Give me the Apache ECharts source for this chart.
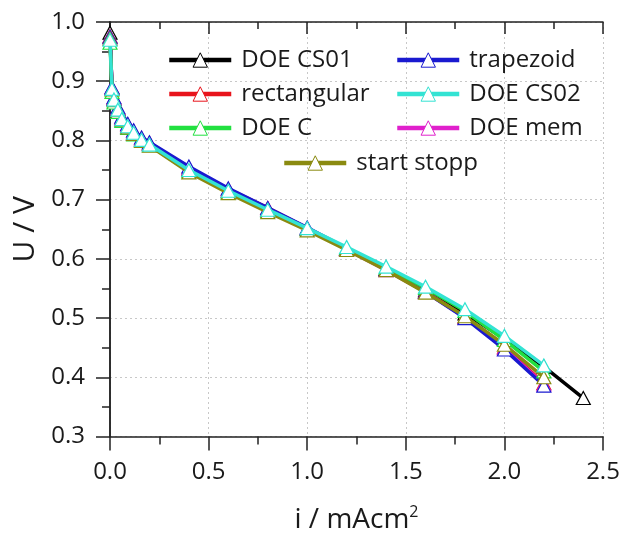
<!DOCTYPE html>
<html>
<head>
<meta charset="utf-8">
<script src="https://cdn.jsdelivr.net/npm/echarts@6/dist/echarts.min.js"></script>
<style>html,body{margin:0;padding:0;background:#fff}#c{width:635px;height:539px}</style>
</head>
<body>
<div id="c"></div>
<script>
// ---- data ----
const currentX = [0, 0.01, 0.02, 0.04, 0.06, 0.09, 0.12, 0.16, 0.2, 0.4, 0.6, 0.8, 1.0, 1.2, 1.4, 1.6, 1.8, 2.0, 2.2];
const currentXLong = currentX.concat([2.4]);
const seriesNames = ['DOE CS01', 'trapezoid', 'rectangular', 'DOE CS02', 'DOE C', 'DOE mem', 'start stopp'];
const doeCS01 = [0.982, 0.888, 0.870, 0.853, 0.837, 0.824, 0.813, 0.801, 0.794, 0.751, 0.715, 0.683, 0.651, 0.617, 0.583, 0.547, 0.508, 0.465, 0.418, 0.365];
const trapezoid = [0.975, 0.890, 0.873, 0.856, 0.840, 0.828, 0.817, 0.805, 0.797, 0.756, 0.719, 0.686, 0.653, 0.618, 0.582, 0.544, 0.500, 0.447, 0.386];
const rectangular = [0.976, 0.889, 0.872, 0.855, 0.839, 0.827, 0.816, 0.804, 0.796, 0.754, 0.718, 0.686, 0.652, 0.617, 0.582, 0.545, 0.502, 0.451, 0.390];
const doeCS02 = [0.970, 0.887, 0.869, 0.852, 0.836, 0.824, 0.813, 0.801, 0.793, 0.750, 0.715, 0.683, 0.652, 0.620, 0.587, 0.553, 0.515, 0.470, 0.420];
const doeC = [0.965, 0.882, 0.864, 0.848, 0.833, 0.821, 0.810, 0.799, 0.792, 0.748, 0.713, 0.681, 0.650, 0.618, 0.585, 0.551, 0.512, 0.463, 0.410];
const doeMem = [0.974, 0.889, 0.871, 0.854, 0.838, 0.826, 0.815, 0.803, 0.795, 0.753, 0.717, 0.685, 0.651, 0.616, 0.581, 0.544, 0.501, 0.449, 0.388];
const startStopp = [0.972, 0.886, 0.868, 0.851, 0.835, 0.822, 0.811, 0.799, 0.791, 0.746, 0.711, 0.679, 0.648, 0.615, 0.581, 0.543, 0.503, 0.455, 0.400];
const xTicks = [0, 0.5, 1.0, 1.5, 2.0, 2.5];
const yTicks = [0.3, 0.4, 0.5, 0.6, 0.7, 0.8, 0.9, 1.0];

// ---- chart ----
const FONT = 'Open Sans';
const TXT = '#1a1a1a';
const colors = {
  'DOE CS01': '#000000',
  'trapezoid': '#1a1ad0',
  'rectangular': '#e8141c',
  'DOE CS02': '#33e3d3',
  'DOE C': '#22e040',
  'DOE mem': '#e020cc',
  'start stopp': '#8a8a10'
};
const valuesByName = {
  'DOE CS01': [currentXLong, doeCS01],
  'trapezoid': [currentX, trapezoid],
  'rectangular': [currentX, rectangular],
  'DOE CS02': [currentX, doeCS02],
  'DOE C': [currentX, doeC],
  'DOE mem': [currentX, doeMem],
  'start stopp': [currentX, startStopp]
};
const drawOrder = ['DOE CS01', 'rectangular', 'DOE mem', 'trapezoid', 'DOE C', 'start stopp', 'DOE CS02'];

function mkSeries(name, i) {
  const [xs, ys] = valuesByName[name];
  return {
    name: name,
    type: 'line',
    data: xs.map((x, k) => [x, ys[k]]),
    symbol: 'triangle',
    symbolSize: [14, 13],
    showAllSymbol: true,
    lineStyle: { color: colors[name], width: 3.5 },
    itemStyle: { color: '#ffffff', borderColor: colors[name], borderWidth: 1.2 },
    z: 2 + i,
    animation: false
  };
}

const legendText = { fontFamily: FONT, fontSize: 24, color: TXT, lineHeight: 24, padding: [0, 0, 0, 5] };
const legendCommon = {
  orient: 'vertical',
  itemWidth: 62,
  itemHeight: 18,
  itemGap: 10,
  textStyle: legendText,
  lineStyle: { width: 4.5 },
  itemStyle: { borderWidth: 1 },
  inactiveColor: '#ccc'
};

const baseAxisLine = { show: true, lineStyle: { color: '#222', width: 1.5 } };

const option = {
  backgroundColor: '#fff',
  animation: false,
  grid: { left: 110, top: 22, right: 32, bottom: 93 },
  legend: [
    Object.assign({ left: 162, top: 43, data: ['DOE CS01', 'rectangular', 'DOE C'] }, legendCommon),
    Object.assign({ left: 390, top: 43, data: ['trapezoid', 'DOE CS02', 'DOE mem'] }, legendCommon),
    Object.assign({ left: 277, top: 146, data: ['start stopp'] }, legendCommon)
  ],
  xAxis: [
    {
      type: 'value', min: xTicks[0], max: xTicks[xTicks.length - 1], interval: 0.5,
      position: 'bottom',
      axisLine: baseAxisLine,
      axisTick: { show: true, length: 14, inside: false, lineStyle: { color: '#222', width: 1.5 } },
      minorTick: { show: true, splitNumber: 2, length: 8, lineStyle: { color: '#222', width: 1.5 } },
      splitLine: { show: true, lineStyle: { color: '#c8c8c8', width: 1, type: [2, 3] } },
      axisLabel: { margin: 24, fontFamily: FONT, fontSize: 24, color: TXT, formatter: v => v.toFixed(1) },
      name: '{a|i / mAcm}{s|2}',
      nameLocation: 'middle',
      nameGap: 68,
      nameTextStyle: {
        rich: {
          a: { fontFamily: FONT, fontSize: 28, color: TXT, lineHeight: 30 },
          s: { fontFamily: FONT, fontSize: 16, color: TXT, padding: [0, 0, 15, 0] }
        }
      }
    },
    {
      type: 'value', min: xTicks[0], max: xTicks[xTicks.length - 1], interval: 0.5,
      position: 'top',
      axisLine: baseAxisLine,
      axisTick: { show: true, length: 12, inside: true, lineStyle: { color: '#222', width: 1.5 } },
      minorTick: { show: true, splitNumber: 2, length: 7, lineStyle: { color: '#222', width: 1.5 } },
      splitLine: { show: false },
      axisLabel: { show: false }
    }
  ],
  yAxis: [
    {
      type: 'value', min: yTicks[0], max: yTicks[yTicks.length - 1], interval: 0.1,
      position: 'left',
      axisLine: baseAxisLine,
      axisTick: { show: true, length: 14, inside: false, lineStyle: { color: '#222', width: 1.5 } },
      minorTick: { show: true, splitNumber: 2, length: 8, lineStyle: { color: '#222', width: 1.5 } },
      splitLine: { show: true, lineStyle: { color: '#c8c8c8', width: 1, type: [2, 3] } },
      axisLabel: { margin: 25, fontFamily: FONT, fontSize: 24, color: TXT, formatter: v => v.toFixed(1) },
      name: 'U / V',
      nameLocation: 'middle',
      nameGap: 66,
      nameTextStyle: { fontFamily: FONT, fontSize: 30, color: TXT }
    },
    {
      type: 'value', min: yTicks[0], max: yTicks[yTicks.length - 1], interval: 0.1,
      position: 'right',
      axisLine: baseAxisLine,
      axisTick: { show: true, length: 12, inside: true, lineStyle: { color: '#222', width: 1.5 } },
      minorTick: { show: true, splitNumber: 2, length: 7, lineStyle: { color: '#222', width: 1.5 } },
      splitLine: { show: false },
      axisLabel: { show: false }
    }
  ],
  series: drawOrder.map(mkSeries)
};

const chart = echarts.init(document.getElementById('c'), null, { renderer: 'canvas' });
chart.setOption(option);
</script>
</body>
</html>
